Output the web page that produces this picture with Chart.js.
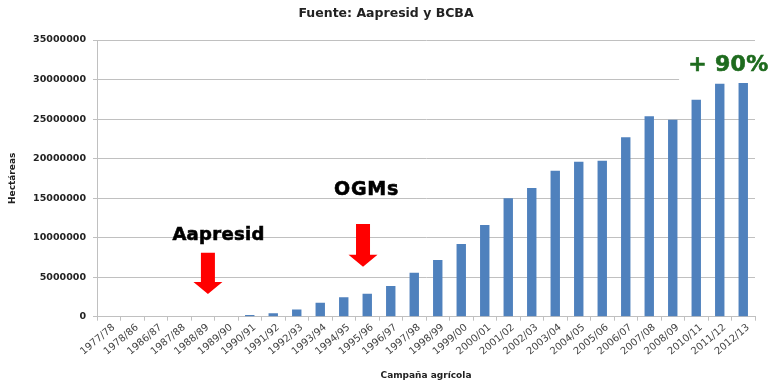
<!DOCTYPE html>
<html>
<head>
<meta charset="utf-8">
<script src="https://cdn.jsdelivr.net/npm/chart.js@4/dist/chart.umd.min.js"></script>
<style>
  html, body { margin: 0; padding: 0; background: #fff; }
  #wrap { width: 772px; height: 384px; }
</style>
</head>
<body>
<div id="wrap"><canvas id="c" width="772" height="384"></canvas></div>
<script>
// Campañas agrícolas
const campaigns = [
  '1977/78', '1978/86', '1986/87', '1987/88', '1988/89', '1989/90', '1990/91',
  '1991/92', '1992/93', '1993/94', '1994/95', '1995/96', '1996/97', '1997/98',
  '1998/99', '1999/00', '2000/01', '2001/02', '2002/03', '2003/04', '2004/05',
  '2005/06', '2006/07', '2007/08', '2008/09', '2010/11', '2011/12', '2012/13'
];

// Hectáreas en siembra directa por campaña
const hectares = [
  0, 0, 0, 0, 0, 0, 210000,
  430000, 900000, 1770000, 2450000, 2910000, 3880000, 5570000,
  7170000, 9200000, 11600000, 14970000, 16280000, 18470000, 19600000,
  19730000, 22690000, 25340000, 24920000, 27450000, 29470000, 29560000
];

// Eje vertical
const yMin = 0;
const yMax = 35000000;
const yStep = 5000000;

const chartTitle = 'Fuente: Aapresid y BCBA';

const TXT = '#222';
const GRID = '#c0c0c0';

// Título centrado en el lienzo completo
const titlePlugin = {
  id: 'pageTitle',
  afterDraw(chart) {
    const { ctx } = chart;
    ctx.save();
    ctx.font = 'bold 12.5px "DejaVu Sans"';
    ctx.fillStyle = TXT;
    ctx.textAlign = 'center';
    ctx.textBaseline = 'middle';
    ctx.fillText(chartTitle, chart.width / 2, 14);
    ctx.restore();
  }
};

// Flechas y rótulos sobre el gráfico
const notesPlugin = {
  id: 'notes',
  afterDatasetsDraw(chart) {
    const { ctx, scales: { x, y } } = chart;

    const arrow = (pos, topVal, tipVal) => {
      const cx = x.getPixelForValue(pos);
      const top = y.getPixelForValue(topVal);
      const tip = y.getPixelForValue(tipVal);
      const headH = 12, shaftW = 7, headW = 14.5;
      ctx.save();
      ctx.fillStyle = '#ff0000';
      ctx.beginPath();
      ctx.moveTo(cx - shaftW, top);
      ctx.lineTo(cx + shaftW, top);
      ctx.lineTo(cx + shaftW, tip - headH);
      ctx.lineTo(cx + headW, tip - headH);
      ctx.lineTo(cx, tip);
      ctx.lineTo(cx - headW, tip - headH);
      ctx.lineTo(cx - shaftW, tip - headH);
      ctx.closePath();
      ctx.fill();
      ctx.restore();
    };

    const label = (text, pos, val, size, spacing, color) => {
      ctx.save();
      ctx.font = 'bold ' + size + 'px "DejaVu Sans"';
      ctx.letterSpacing = spacing + 'px';
      ctx.fillStyle = color;
      ctx.strokeStyle = color;
      ctx.lineWidth = 0.6;
      ctx.textAlign = 'center';
      ctx.textBaseline = 'alphabetic';
      const px = x.getPixelForValue(pos), py = y.getPixelForValue(val);
      ctx.fillText(text, px, py);
      ctx.strokeText(text, px, py);
      ctx.restore();
    };

    label('Aapresid', 4.67, 9700000, 18, 0.3, '#000');
    arrow(4.22, 8100000, 2870000);

    label('OGMs', 10.97, 15400000, 19, 0.8, '#000');
    arrow(10.82, 11730000, 6320000);

    // rótulo de crecimiento con fondo blanco
    ctx.save();
    const gx = x.getPixelForValue(26.37);
    const gy = y.getPixelForValue(31100000);
    ctx.font = 'bold 22px "DejaVu Sans"';
    const w = ctx.measureText('+ 90%').width;
    ctx.fillStyle = '#fff';
    ctx.fillRect(gx - w / 2 - 10, gy - 20, chart.width - (gx - w / 2 - 10), 30);
    ctx.restore();
    label('+ 90%', 26.37, 31100000, 22, 0.3, '#1e6b1e');
  }
};

new Chart(document.getElementById('c'), {
  type: 'bar',
  data: {
    labels: campaigns,
    datasets: [{
      data: hectares,
      backgroundColor: '#4f81bd',
      barPercentage: 0.4,
      categoryPercentage: 1
    }]
  },
  options: {
    responsive: false,
    animation: false,
    layout: { padding: { left: 0, right: 17, top: 40, bottom: 0 } },
    plugins: {
      legend: { display: false },
      tooltip: { enabled: false },
      title: { display: false }
    },
    scales: {
      x: {
        grid: { drawOnChartArea: false, tickLength: 4, color: GRID, offset: true },
        border: { color: GRID },
        ticks: {
          autoSkip: false,
          minRotation: 40,
          maxRotation: 40,
          padding: 1,
          labelOffset: 5,
          color: '#444',
          font: { family: 'DejaVu Sans', size: 10 }
        },
        title: {
          display: true,
          text: 'Campaña agrícola',
          color: TXT,
          font: { family: 'DejaVu Sans', size: 9, weight: 'bold' },
          padding: { top: 0, bottom: 2.6 }
        },
        afterFit(scale) { scale.height = 67.3; }
      },
      y: {
        min: yMin,
        max: yMax,
        grid: { color: GRID, tickLength: 4 },
        border: { color: GRID },
        ticks: {
          stepSize: yStep,
          padding: 7,
          color: TXT,
          font: { family: 'DejaVu Sans', size: 9.5, weight: 'bold' },
          callback: v => String(v)
        },
        title: {
          display: true,
          text: 'Hectáreas',
          color: TXT,
          font: { family: 'DejaVu Sans', size: 9, weight: 'bold' },
          padding: { top: 7.6, bottom: 0 }
        },
        afterFit(scale) { scale.width = 97; }
      }
    }
  },
  plugins: [notesPlugin, titlePlugin]
});
</script>
</body>
</html>
